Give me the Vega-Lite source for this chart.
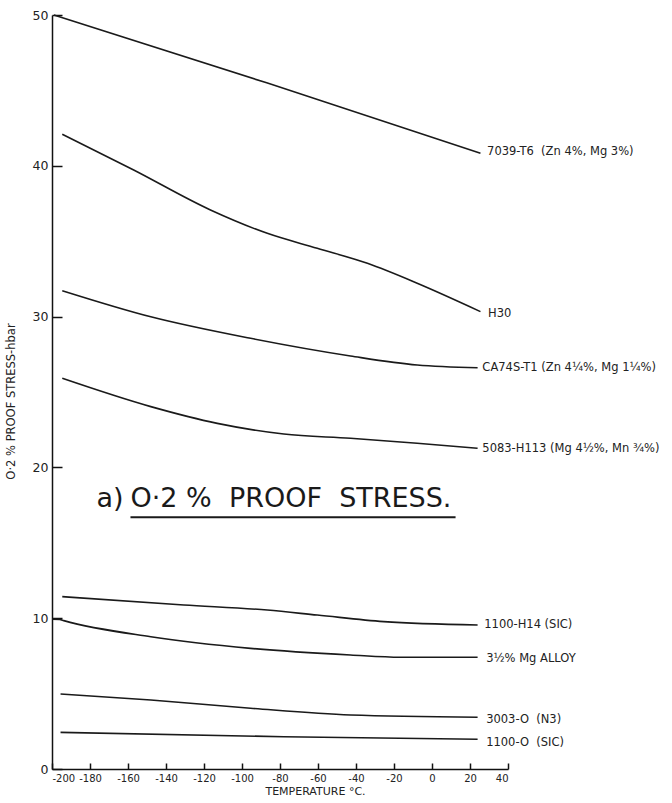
{
  "$schema": "https://vega.github.io/schema/vega-lite/v6.json",
  "width": 456,
  "height": 754,
  "autosize": {"type": "none"},
  "padding": {"left": 52, "top": 15, "right": 164, "bottom": 34},
  "background": "#ffffff",
  "config": {
    "view": {"stroke": null},
    "font": "DejaVu Sans",
    "axis": {"grid": false, "domainColor": "#111", "domainWidth": 1.5, "tickColor": "#111", "tickWidth": 1.5, "labelColor": "#222", "titleColor": "#222", "labelFont": "DejaVu Sans", "titleFont": "DejaVu Sans", "titleFontWeight": "normal"}
  },
  "datasets": {
    "series": [
      {"series": "7039", "temp": -199, "value": 50.0},
      {"series": "7039", "temp": -87, "value": 45.5},
      {"series": "7039", "temp": 25.5, "value": 40.83},
      {"series": "H30", "temp": -194.6, "value": 42.09},
      {"series": "H30", "temp": -157, "value": 39.72},
      {"series": "H30", "temp": -116.6, "value": 37.07},
      {"series": "H30", "temp": -86.7, "value": 35.52},
      {"series": "H30", "temp": -60.4, "value": 34.53},
      {"series": "H30", "temp": -34, "value": 33.53},
      {"series": "H30", "temp": -7.8, "value": 32.21},
      {"series": "H30", "temp": 25.5, "value": 30.33},
      {"series": "CA74S", "temp": -194.6, "value": 31.72},
      {"series": "CA74S", "temp": -148, "value": 29.99},
      {"series": "CA74S", "temp": -95.5, "value": 28.56},
      {"series": "CA74S", "temp": -42.9, "value": 27.39},
      {"series": "CA74S", "temp": -7.8, "value": 26.79},
      {"series": "CA74S", "temp": 24, "value": 26.61},
      {"series": "5083", "temp": -194.6, "value": 25.91},
      {"series": "5083", "temp": -148, "value": 24.03},
      {"series": "5083", "temp": -113, "value": 22.92},
      {"series": "5083", "temp": -78, "value": 22.21},
      {"series": "5083", "temp": -42.9, "value": 21.93},
      {"series": "5083", "temp": -7.8, "value": 21.6},
      {"series": "5083", "temp": 24, "value": 21.27},
      {"series": "1100-H14", "temp": -194.6, "value": 11.43},
      {"series": "1100-H14", "temp": -130.6, "value": 10.88},
      {"series": "1100-H14", "temp": -86.7, "value": 10.54},
      {"series": "1100-H14", "temp": -60.4, "value": 10.21},
      {"series": "1100-H14", "temp": -25.4, "value": 9.77},
      {"series": "1100-H14", "temp": 24, "value": 9.55},
      {"series": "Mg", "temp": -200, "value": 9.93},
      {"series": "Mg", "temp": -196, "value": 9.92},
      {"series": "Mg", "temp": -193.8, "value": 9.84},
      {"series": "Mg", "temp": -148, "value": 8.77},
      {"series": "Mg", "temp": -95.5, "value": 8.0},
      {"series": "Mg", "temp": -42.9, "value": 7.56},
      {"series": "Mg", "temp": -16.6, "value": 7.41},
      {"series": "Mg", "temp": 24, "value": 7.41},
      {"series": "3003", "temp": -195.5, "value": 4.97},
      {"series": "3003", "temp": -148, "value": 4.58},
      {"series": "3003", "temp": -95.5, "value": 4.03},
      {"series": "3003", "temp": -42.9, "value": 3.58},
      {"series": "3003", "temp": 24, "value": 3.43},
      {"series": "1100-O", "temp": -195.5, "value": 2.43},
      {"series": "1100-O", "temp": -78, "value": 2.14},
      {"series": "1100-O", "temp": 24, "value": 1.97}
    ],
    "labels": [
      {"temp": 29, "value": 40.9, "label": "7039-T6\u00a0 (Zn 4%, Mg 3%)"},
      {"temp": 29.5, "value": 30.2, "label": "H30"},
      {"temp": 26.5, "value": 26.6, "label": "CA74S-T1 (Zn 4¼%, Mg 1¼%)"},
      {"temp": 26.5, "value": 21.2, "label": "5083-H113 (Mg 4½%, Mn ¾%)"},
      {"temp": 27.5, "value": 9.53, "label": "1100-H14 (SIC)"},
      {"temp": 28.5, "value": 7.28, "label": "3½% Mg ALLOY"},
      {"temp": 28.5, "value": 3.23, "label": "3003-O\u00a0 (N3)"},
      {"temp": 28.5, "value": 1.75, "label": "1100-O\u00a0 (SIC)"}
    ],
    "title": [
      {"temp": -176.6, "value": 17.9, "label": "a)"},
      {"temp": -158.7, "value": 17.9, "label": "O·2 %\u00a0 PROOF\u00a0 STRESS."}
    ],
    "underline": [
      {"temp": -158.7, "temp2": 12.4, "value": 16.7}
    ]
  },
  "encoding": {
    "x": {"field": "temp", "type": "quantitative", "scale": {"domain": [-200, 40], "nice": false, "zero": false},
      "axis": {"values": [-200, -180, -160, -140, -120, -100, -80, -60, -40, -20, 0, 20, 40], "labelExpr": "'' + datum.value", "tickSize": -6, "labelPadding": 10, "labelFontSize": 10, "title": "TEMPERATURE °C.", "titleFontSize": 11, "titleX": 263, "titleY": 22, "titleBaseline": "middle"}},
    "y": {"field": "value", "type": "quantitative", "scale": {"domain": [0, 50], "nice": false},
      "axis": {"values": [0, 10, 20, 30, 40, 50], "tickSize": -10, "labelPadding": 14, "labelFontSize": 12.5, "title": "O·2 % PROOF STRESS-hbar", "titleFontSize": 11.5, "titleX": -36, "titleY": 386}}
  },
  "layer": [
    {
      "data": {"name": "series"},
      "mark": {"type": "line", "interpolate": "monotone", "color": "#1a1a1a", "strokeWidth": 1.6, "clip": false},
      "encoding": {"detail": {"field": "series"}}
    },
    {
      "data": {"name": "labels"},
      "mark": {"type": "text", "align": "left", "baseline": "middle", "fontSize": 11.5, "color": "#222", "clip": false},
      "encoding": {"text": {"field": "label"}}
    },
    {
      "data": {"name": "title"},
      "mark": {"type": "text", "align": "left", "baseline": "middle", "fontSize": 27, "color": "#1a1a1a"},
      "encoding": {"text": {"field": "label"}}
    },
    {
      "data": {"name": "underline"},
      "mark": {"type": "rule", "color": "#1a1a1a", "strokeWidth": 2},
      "encoding": {"x2": {"field": "temp2"}}
    }
  ]
}
